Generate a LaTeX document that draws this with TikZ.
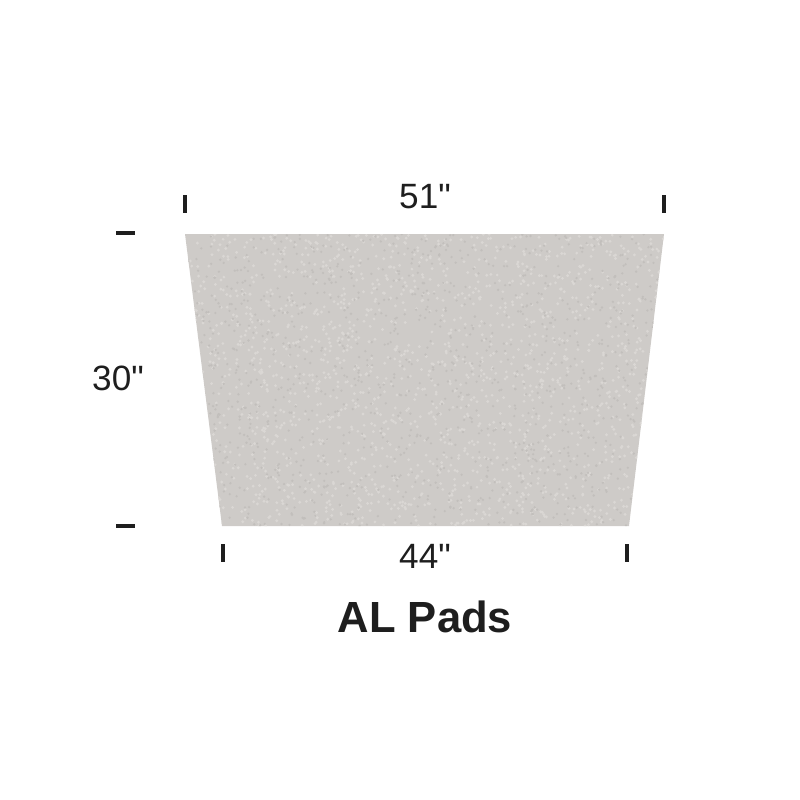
\documentclass[tikz,border=0pt]{standalone}
\usepackage{fontspec}
\newfontfamily\dimfont{Liberation Sans}
\definecolor{padgrey}{RGB}{206,203,200}
\definecolor{padlight}{RGB}{218,215,212}
\definecolor{paddark}{RGB}{194,191,188}
\definecolor{inkgrey}{RGB}{30,30,30}

\begin{document}
\begin{tikzpicture}[x=0.01cm,y=-0.01cm,
  tick/.style={line width=1.15pt,draw=inkgrey},
  dimlabel/.style={font=\dimfont\fontsize{10}{12}\selectfont,text=inkgrey,inner sep=0pt},
  titlelabel/.style={font=\dimfont\bfseries\fontsize{12.4}{14}\selectfont,text=inkgrey,inner sep=0pt}]
\useasboundingbox (0,0) rectangle (800,800);

% pad corners
\coordinate (tl) at (185,234);
\coordinate (tr) at (664,234);
\coordinate (br) at (629,526);
\coordinate (bl) at (222,526);

% pad
\fill[padgrey] (tl) -- (tr) -- (br) -- (bl) -- cycle;
\begin{scope}
\clip (tl) -- (tr) -- (br) -- (bl) -- cycle;
\pgfmathsetseed{7}
\foreach \i in {1,...,1800}
  \fill[padlight] (185+479*rnd,234+292*rnd) circle (1.6);
\foreach \i in {1,...,1200}
  \fill[paddark] (185+479*rnd,234+292*rnd) circle (1.3);
\end{scope}

% top dimension
\draw[tick] (185,195) -- (185,213);
\draw[tick] (664,195) -- (664,213);
\node[dimlabel] (top) at (425,197) {51"};

% side dimension
\draw[tick] (116,233) -- (135,233);
\draw[tick] (116,526) -- (135,526);
\node[dimlabel] (side) at (118,378) {30"};

% bottom dimension
\draw[tick] (223,544) -- (223,562);
\draw[tick] (627,544) -- (627,562);
\node[dimlabel] (bottom) at (425,556) {44"};

% title
\node[titlelabel] (title) at (425,617) {AL Pads};

\end{tikzpicture}
\end{document}
